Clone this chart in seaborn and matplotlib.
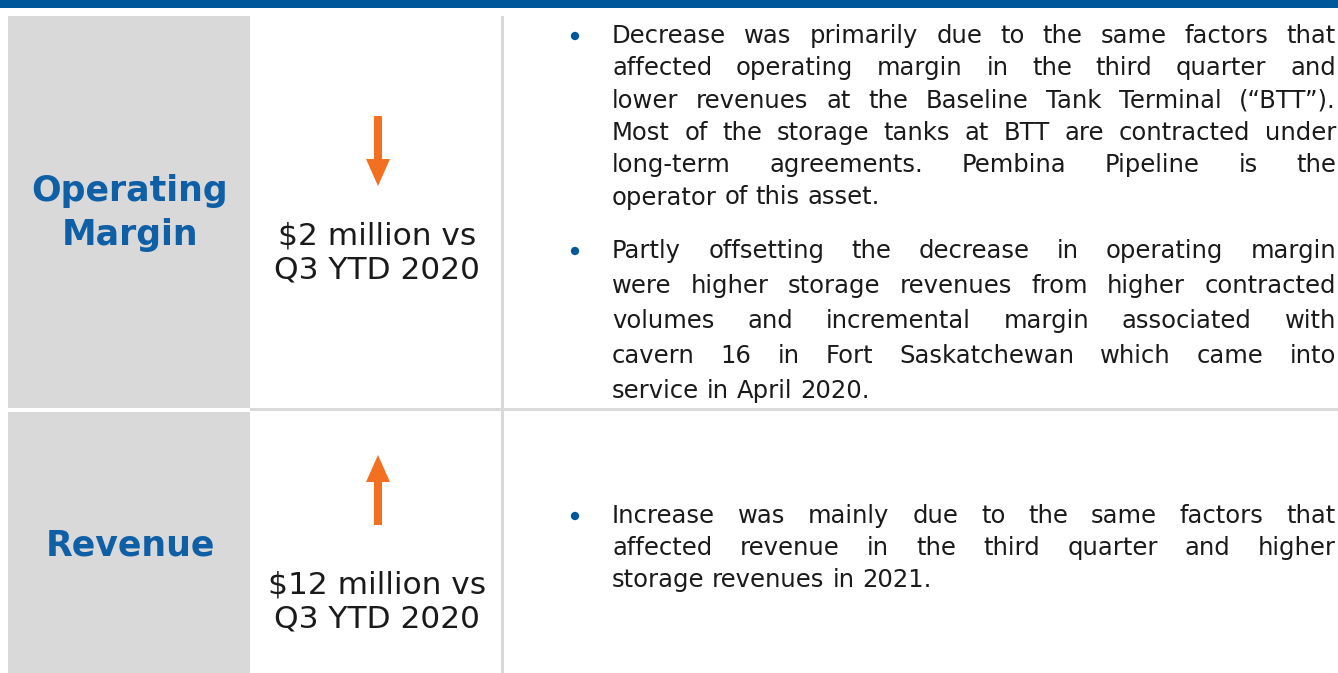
import numpy as np
import matplotlib
matplotlib.use("Agg")
import matplotlib.pyplot as plt
from matplotlib.patches import Rectangle, FancyArrow
import seaborn as sns

# Содержимое слайда
metrics = ["Operating\nMargin", "Revenue"]
changes = ["$2 million vs\nQ3 YTD 2020", "$12 million vs\nQ3 YTD 2020"]
directions = ["down", "up"]

para_margin_1 = [
    "Decrease was primarily due to the same factors that",
    "affected operating margin in the third quarter and",
    "lower revenues at the Baseline Tank Terminal (“BTT”).",
    "Most of the storage tanks at BTT are contracted under",
    "long-term agreements. Pembina Pipeline is the",
    "operator of this asset.",
]
para_margin_2 = [
    "Partly offsetting the decrease in operating margin",
    "were higher storage revenues from higher contracted",
    "volumes and incremental margin associated with",
    "cavern 16 in Fort Saskatchewan which came into",
    "service in April 2020.",
]
para_revenue = [
    "Increase was mainly due to the same factors that",
    "affected revenue in the third quarter and higher",
    "storage revenues in 2021.",
]

BLUE = "#00589A"
TITLE_BLUE = "#0F5FA6"
GREY = "#D9D9D9"
ORANGE = "#F37021"
TXT = "#1A1A1A"

sns.set_theme(style="white")
plt.rcParams["font.family"] = ["DejaVu Sans"]

W, H = 1338, 673
fig = plt.figure(figsize=(W / 100, H / 100), dpi=100)
ax = fig.add_axes([0, 0, 1, 1])
ax.set_xlim(0, W)
ax.set_ylim(H, 0)
ax.axis("off")

# верхняя полоса
ax.add_patch(Rectangle((0, 0), W, 7.5, color=BLUE, lw=0))

# серые ячейки и разделители
rows = [(16, 408), (412, H)]
for (y0, y1) in rows:
    ax.add_patch(Rectangle((8, y0), 242, y1 - y0, color=GREY, lw=0))
ax.add_patch(Rectangle((501, 16), 2.5, H - 16, color=GREY, lw=0))
ax.add_patch(Rectangle((250, 408), W - 250, 3, color=GREY, lw=0))

# заголовки и изменения
title_y = [213, 546]
change_y = [253, 602]
for i in range(2):
    ax.text(130, title_y[i], metrics[i], ha="center", va="center", fontsize=25,
            fontweight="bold", color=TITLE_BLUE, linespacing=1.38)
    ax.text(377, change_y[i], changes[i], ha="center", va="center", fontsize=22.5,
            color=TXT, linespacing=1.23)

# стрелки
arrow_span = {"down": (116, 186), "up": (525, 455)}
for d in directions:
    ys, ye = arrow_span[d]
    ax.add_patch(FancyArrow(378, ys, 0, ye - ys, width=8, head_width=24,
                            head_length=27, length_includes_head=True,
                            color=ORANGE, lw=0))

# текст по ширине
renderer = fig.canvas.get_renderer()
FS = 17.5
X0, X1 = 612, 1336


def width_of(s):
    t = ax.text(0, 0, s, fontsize=FS)
    w = t.get_window_extent(renderer).width
    t.remove()
    return w


space_w = width_of("x x") - width_of("xx")


def draw_paragraph(lines, y_start, step):
    ys = []
    for k, line in enumerate(lines):
        y = y_start + step * k
        ys.append(y)
        words = line.split(" ")
        widths = [width_of(w) for w in words]
        last = k == len(lines) - 1
        if last or len(words) == 1:
            gap = space_w
        else:
            gap = (X1 - X0 - sum(widths)) / (len(words) - 1)
        x = X0
        for w, wd in zip(words, widths):
            ax.text(x, y, w, fontsize=FS, va="center", ha="left", color=TXT)
            x += wd + gap
    return ys[0]


bullet_y = [
    draw_paragraph(para_margin_1, 36, 32.3),
    draw_paragraph(para_margin_2, 251, 35),
    draw_paragraph(para_revenue, 516, 32),
]

sns.scatterplot(x=[575] * len(bullet_y), y=bullet_y, ax=ax, s=36, color=BLUE,
                edgecolor="none", legend=False, zorder=5)
ax.set_xlim(0, W)
ax.set_ylim(H, 0)
ax.axis("off")

fig.savefig("out.png", dpi=100)
